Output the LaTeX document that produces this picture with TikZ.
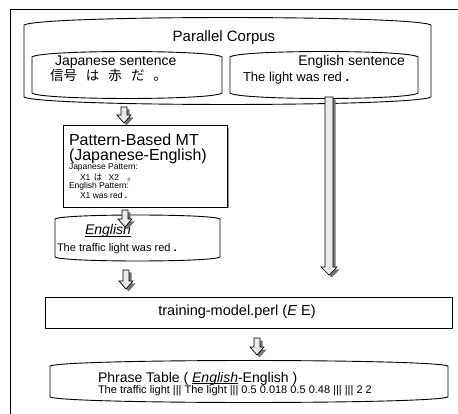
\documentclass[tikz,border=0pt]{standalone}
\usepackage{fontspec}
\setmainfont{Liberation Sans}
\newfontfamily\jpfont{Noto Sans CJK JP}
\usetikzlibrary{calc}

% underline sitting just below the baseline
\newcommand\ulbase[1]{\setbox0=\hbox{#1}\rlap{\rule[-2pt]{\wd0}{0.6pt}}\box0}

\tikzset{
  boxline/.style={draw=black, line width=0.9pt, line cap=round, line join=round},
  txt/.style={anchor=base west, inner sep=0pt, outer sep=0pt},
  arrowfill/.style={fill=black!8, draw=black, line width=0.7pt, line join=miter},
  arrowshade/.style={fill=black!55},
}

% barrel-like outline: left x, top corner y, right x, bottom corner y, bulge
\newcommand\barrelbox[5]{%
  \pgfmathsetmacro\bxa{#1+0.045*(#3-#1)}%
  \pgfmathsetmacro\bxb{#3-0.045*(#3-#1)}%
  \pgfmathsetmacro\byt{#2-1.33*#5}%
  \pgfmathsetmacro\byb{#4+1.33*#5}%
  \draw[boxline] (#1,#4) -- (#1,#2)
    .. controls (\bxa,\byt) and (\bxb,\byt) .. (#3,#2) -- (#3,#4)
    .. controls (\bxb,\byb) and (\bxa,\byb) .. (#1,#4);
}

% one layer of a hollow block arrow
% from, tip, shaft half width, head half width, head length, offset, style
\newcommand\arrowlayer[7]{%
  \path[#7] let \p1=(#1), \p2=(#2) in
    (\x1-#3+#6,\y1-#6) -- (\x1+#3+#6,\y1-#6) -- (\x1+#3+#6,\y2+#5-#6)
    -- (\x1+#4+#6,\y2+#5-#6) -- (\x1+#6,\y2-#6) -- (\x1-#4+#6,\y2+#5-#6)
    -- (\x1-#3+#6,\y2+#5-#6) -- cycle;
}
\newcommand\blockarrow[5]{%
  \arrowlayer{#1}{#2}{#3}{#4}{#5}{2.5pt}{arrowshade}%
  \arrowlayer{#1}{#2}{#3}{#4}{#5}{0pt}{arrowfill}%
}

\begin{document}
\begin{tikzpicture}[x=1pt,y=-1pt]
\useasboundingbox (0,0) rectangle (458,414);

% open frame
\draw[line width=0.8pt] (458,9) -- (10,9) -- (10,414);

% parallel corpus with its two sentences
\barrelbox{24}{25}{431}{97}{7.5}
\barrelbox{32}{57}{222}{93}{5.5}
\barrelbox{230}{57}{418}{93}{5.5}
\node[txt, anchor=base, font=\fontsize{15}{18}\selectfont] (pc) at (224,42) {Parallel Corpus};
\node[txt, font=\fontsize{14}{17}\selectfont] (jslabel) at (55,66) {Japanese sentence};
\node[txt, font=\jpfont\fontsize{13.5}{16}\selectfont] (jsent) at (50,81)
  {信号\hspace{9pt}は\hspace{9pt}赤\hspace{9pt}だ\hspace{9pt}。};
\node[txt, anchor=base east, font=\fontsize{14}{17}\selectfont] (eslabel) at (405,66) {English sentence};
\node[txt, font=\fontsize{13}{16}\selectfont] (esent) at (243,82) {The light was red \textbf{.}};

% pattern-based MT
\draw[black!45, line width=1.4pt] (228.6,128) -- (228.6,208.5);
\node[boxline, draw, fill=white, minimum width=164pt, minimum height=82pt, inner sep=0pt] (pbmt) at (145,166) {};
\node[txt, font=\fontsize{16}{19}\selectfont] (pbt1) at (69,146) {Pattern-Based MT};
\node[txt, font=\fontsize{16}{19}\selectfont] (pbt2) at (69,160.5) {(Japanese-English)};
\node[txt, font=\fontsize{8.5}{10}\selectfont] (jpat) at (69,169.5) {Japanese Pattern:};
\node[txt, font=\fontsize{8.5}{10}\selectfont] (jpatx) at (80,180.5) {X1 \hspace{1pt}{\jpfont は}\hspace{4pt} X2 \hspace{6pt}{\jpfont 。}};
\node[txt, font=\fontsize{8.5}{10}\selectfont] (epat) at (69,188.5) {English Pattern:};
\node[txt, font=\fontsize{8.5}{10}\selectfont] (epatx) at (80,199) {X1 was red \textbf{.}};

% translated sentence
\barrelbox{55}{219}{220}{257}{4}
\node[txt, font=\fontsize{14}{17}\selectfont] (eng) at (85,235) {\ulbase{\textit{English}}};
\node[txt, font=\fontsize{11}{13}\selectfont] (etrans) at (57,251.5) {The traffic light was red \textbf{.}};

% training step
\node[boxline, draw, minimum width=407pt, minimum height=31pt, inner sep=0pt] (train) at (248.5,312.5) {};
\node[txt, anchor=base, font=\fontsize{14.5}{17}\selectfont] (traintxt) at (237,316) {training-model.perl (\textit{E} E)};

% phrase table
\barrelbox{50}{366}{448}{397}{5.5}
\node[txt, font=\fontsize{14}{17}\selectfont] (pt1) at (98,382)
  {Phrase Table ( \ulbase{\textit{English}}-English )};
\node[txt, font=\fontsize{11}{13}\selectfont] (pt2) at (98,393)
  {The traffic light ||| The light ||| 0.5 0.018 0.5 0.48 ||| ||| 2 2};

% arrow end points
\coordinate (a1s) at (124,107);  \coordinate (a1e) at (124,123);
\coordinate (a2s) at (125,210);  \coordinate (a2e) at (125,227);
\coordinate (a3s) at (126,270);  \coordinate (a3e) at (126,289);
\coordinate (a4s) at (257,338);  \coordinate (a4e) at (257,355);
\coordinate (lgs) at (329,97);   \coordinate (lge) at (329,275);

\blockarrow{a1s}{a1e}{3pt}{7pt}{8pt}
\blockarrow{a2s}{a2e}{3pt}{7pt}{8pt}
\blockarrow{a3s}{a3e}{3pt}{7pt}{8pt}
\blockarrow{a4s}{a4e}{3pt}{7pt}{8pt}
\blockarrow{lgs}{lge}{4pt}{8pt}{8pt}
\end{tikzpicture}
\end{document}
